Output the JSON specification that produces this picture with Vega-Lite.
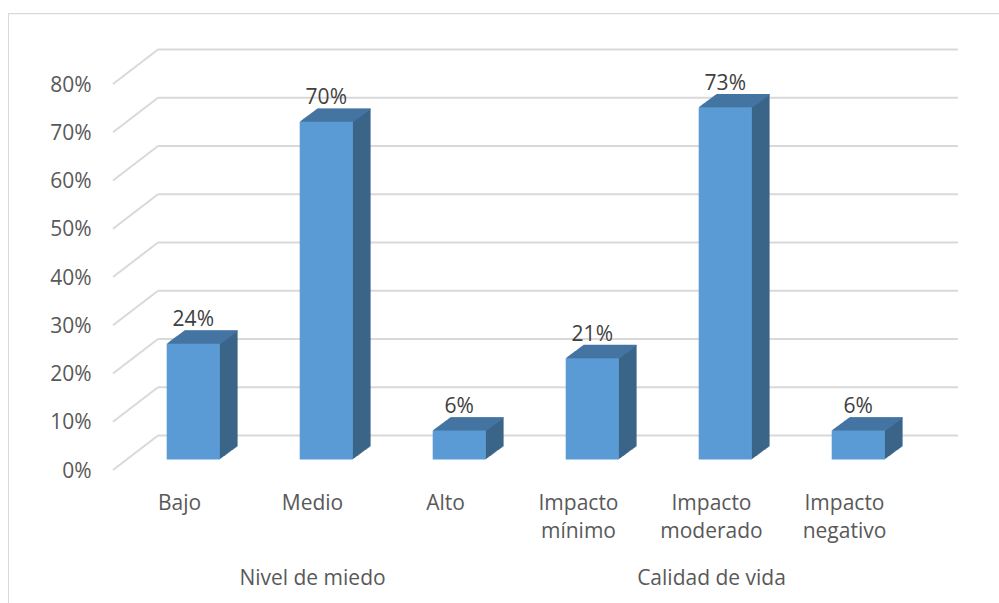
{
"$schema":"https://vega.github.io/schema/vega-lite/v6.json",
"width":798,"height":386,
"autosize":{"type":"none"},
"padding":{"left":113,"top":84,"right":88,"bottom":133},
"background":"white",
"config":{"view":{"stroke":null},"font":"Open Sans","text":{"font":"Open Sans"}},
"resolve":{"scale":{"x":"independent"}},
"layer":[
{"data":{"values":[{"nivel":0},{"nivel":0.1},{"nivel":0.2},{"nivel":0.3},{"nivel":0.4},{"nivel":0.5},{"nivel":0.6},{"nivel":0.7},{"nivel":0.8}]},
"layer":[
{"mark":{"type":"rule","color":"#d9d9d9","strokeWidth":1},
"encoding":{"x":{"datum":-104.5,"type":"quantitative","scale":{"domain":[0,798],"nice":false,"zero":false},"axis":null},"x2":{"datum":886},
"y":{"datum":0.946,"type":"quantitative","scale":{"domain":[0,0.8],"nice":false},"axis":{"values":[0,0.1,0.2,0.3,0.4,0.5,0.6,0.7,0.8],"format":".0%","title":null,"domain":false,"ticks":false,"grid":false,"labelPadding":22,"labelOffset":1,"labelFontSize":21,"labelColor":"#595959","labelFont":"Open Sans"}},"y2":{"datum":0.946}}},
{"mark":{"type":"rule","color":"#d9d9d9","strokeWidth":1},
"encoding":{"x":{"datum":-104.5,"type":"quantitative"},"y":{"datum":0.946,"type":"quantitative"},"y2":{"datum":-0.28}}},
{"mark":{"type":"rule","color":"#d9d9d9","strokeWidth":2,"yOffset":0,"y2Offset":-34.5},
"encoding":{"x":{"datum":0,"type":"quantitative"},"x2":{"datum":45},"y":{"field":"nivel","type":"quantitative"},"y2":{"field":"nivel"}}},
{"mark":{"type":"rule","color":"#d9d9d9","strokeWidth":2,"yOffset":-34.5,"y2Offset":-34.5},
"encoding":{"x":{"datum":45,"type":"quantitative"},"x2":{"datum":845},"y":{"field":"nivel","type":"quantitative"},"y2":{"field":"nivel"}}}
]},
{"data":{"values":[
{"categoria":"Bajo","valor":0.24,"grupo":""},{"categoria":"Medio","valor":0.70,"grupo":"Nivel de miedo"},{"categoria":"Alto","valor":0.06,"grupo":""},
{"categoria":"Impacto mínimo","valor":0.21,"grupo":""},{"categoria":"Impacto moderado","valor":0.73,"grupo":"Calidad de vida"},{"categoria":"Impacto negativo","valor":0.06,"grupo":""}]},
"encoding":{
"x":{"field":"categoria","type":"nominal","sort":null,"scale":{"paddingInner":0.6,"paddingOuter":0.3},"axis":{"orient":"bottom","title":null,"domain":false,"ticks":false,"labelAngle":0,"labelFontSize":21,"labelColor":"#595959","labelFont":"Open Sans","labelPadding":22,"labelLineHeight":28,"labelExpr":"split(datum.label,' ')"}},
"y":{"field":"valor","type":"quantitative"}},
"layer":[
{"mark":{"type":"bar","color":"#3a6488","xOffset":14.8,"yOffset":-11.2,"y2Offset":-11.2},"encoding":{"y2":{"datum":0}}},
{"mark":{"type":"bar","color":"#3a6488","xOffset":15.8,"yOffset":-11.9,"y2Offset":-11.9},"encoding":{"y2":{"datum":0}}},
{"mark":{"type":"bar","color":"#3a6488","xOffset":16.8,"yOffset":-12.7,"y2Offset":-12.7},"encoding":{"y2":{"datum":0}}},
{"mark":{"type":"bar","color":"#3a6488","xOffset":17.7,"yOffset":-13.4,"y2Offset":-13.4},"encoding":{"y2":{"datum":0}}},
{"mark":{"type":"bar","color":"#3a6488","xOffset":18.7,"yOffset":-14.1,"y2Offset":-14.1},"encoding":{"y2":{"datum":0}}},
{"mark":{"type":"bar","color":"#3a6488","xOffset":19.7,"yOffset":-14.8,"y2Offset":-14.8},"encoding":{"y2":{"datum":0}}},
{"mark":{"type":"bar","color":"#3a6488","xOffset":20.7,"yOffset":-15.6,"y2Offset":-15.6},"encoding":{"y2":{"datum":0}}},
{"mark":{"type":"bar","color":"#3a6488","xOffset":21.7,"yOffset":-16.3,"y2Offset":-16.3},"encoding":{"y2":{"datum":0}}},
{"mark":{"type":"bar","color":"#3a6488","xOffset":22.6,"yOffset":-17.0,"y2Offset":-17.0},"encoding":{"y2":{"datum":0}}},
{"mark":{"type":"bar","color":"#3a6488","xOffset":23.6,"yOffset":-17.7,"y2Offset":-17.7},"encoding":{"y2":{"datum":0}}},
{"mark":{"type":"bar","color":"#3a6488","xOffset":24.6,"yOffset":-18.4,"y2Offset":-18.4},"encoding":{"y2":{"datum":0}}},
{"mark":{"type":"bar","color":"#3a6488","xOffset":25.6,"yOffset":-19.2,"y2Offset":-19.2},"encoding":{"y2":{"datum":0}}},
{"mark":{"type":"bar","color":"#3a6488","xOffset":26.6,"yOffset":-19.9,"y2Offset":-19.9},"encoding":{"y2":{"datum":0}}},
{"mark":{"type":"bar","color":"#3a6488","xOffset":27.6,"yOffset":-20.6,"y2Offset":-20.6},"encoding":{"y2":{"datum":0}}},
{"mark":{"type":"bar","color":"#3a6488","xOffset":28.5,"yOffset":-21.3,"y2Offset":-21.3},"encoding":{"y2":{"datum":0}}},
{"mark":{"type":"bar","color":"#3a6488","xOffset":29.5,"yOffset":-22.1,"y2Offset":-22.1},"encoding":{"y2":{"datum":0}}},
{"mark":{"type":"bar","color":"#3a6488","xOffset":30.5,"yOffset":-22.8,"y2Offset":-22.8},"encoding":{"y2":{"datum":0}}},
{"mark":{"type":"bar","color":"#3a6488","xOffset":31.5,"yOffset":-23.5,"y2Offset":-23.5},"encoding":{"y2":{"datum":0}}},
{"mark":{"type":"tick","opacity":1,"size":53.2,"thickness":1.3,"orient":"horizontal","color":"#4475a2","xOffset":14.8,"yOffset":-10.9}},
{"mark":{"type":"tick","opacity":1,"size":53.2,"thickness":1.3,"orient":"horizontal","color":"#4475a2","xOffset":15.8,"yOffset":-11.6}},
{"mark":{"type":"tick","opacity":1,"size":53.2,"thickness":1.3,"orient":"horizontal","color":"#4475a2","xOffset":16.8,"yOffset":-12.4}},
{"mark":{"type":"tick","opacity":1,"size":53.2,"thickness":1.3,"orient":"horizontal","color":"#4475a2","xOffset":17.7,"yOffset":-13.1}},
{"mark":{"type":"tick","opacity":1,"size":53.2,"thickness":1.3,"orient":"horizontal","color":"#4475a2","xOffset":18.7,"yOffset":-13.8}},
{"mark":{"type":"tick","opacity":1,"size":53.2,"thickness":1.3,"orient":"horizontal","color":"#4475a2","xOffset":19.7,"yOffset":-14.5}},
{"mark":{"type":"tick","opacity":1,"size":53.2,"thickness":1.3,"orient":"horizontal","color":"#4475a2","xOffset":20.7,"yOffset":-15.3}},
{"mark":{"type":"tick","opacity":1,"size":53.2,"thickness":1.3,"orient":"horizontal","color":"#4475a2","xOffset":21.7,"yOffset":-16}},
{"mark":{"type":"tick","opacity":1,"size":53.2,"thickness":1.3,"orient":"horizontal","color":"#4475a2","xOffset":22.6,"yOffset":-16.7}},
{"mark":{"type":"tick","opacity":1,"size":53.2,"thickness":1.3,"orient":"horizontal","color":"#4475a2","xOffset":23.6,"yOffset":-17.4}},
{"mark":{"type":"tick","opacity":1,"size":53.2,"thickness":1.3,"orient":"horizontal","color":"#4475a2","xOffset":24.6,"yOffset":-18.1}},
{"mark":{"type":"tick","opacity":1,"size":53.2,"thickness":1.3,"orient":"horizontal","color":"#4475a2","xOffset":25.6,"yOffset":-18.9}},
{"mark":{"type":"tick","opacity":1,"size":53.2,"thickness":1.3,"orient":"horizontal","color":"#4475a2","xOffset":26.6,"yOffset":-19.6}},
{"mark":{"type":"tick","opacity":1,"size":53.2,"thickness":1.3,"orient":"horizontal","color":"#4475a2","xOffset":27.6,"yOffset":-20.3}},
{"mark":{"type":"tick","opacity":1,"size":53.2,"thickness":1.3,"orient":"horizontal","color":"#4475a2","xOffset":28.5,"yOffset":-21}},
{"mark":{"type":"tick","opacity":1,"size":53.2,"thickness":1.3,"orient":"horizontal","color":"#4475a2","xOffset":29.5,"yOffset":-21.8}},
{"mark":{"type":"tick","opacity":1,"size":53.2,"thickness":1.3,"orient":"horizontal","color":"#4475a2","xOffset":30.5,"yOffset":-22.5}},
{"mark":{"type":"tick","opacity":1,"size":53.2,"thickness":1.3,"orient":"horizontal","color":"#4475a2","xOffset":31.5,"yOffset":-23.2}},
{"mark":{"type":"bar","color":"#5b9bd5","xOffset":13.8,"yOffset":-10.5,"y2Offset":-10.5},"encoding":{"y2":{"datum":0}}},
{"mark":{"type":"text","font":"Open Sans","fontSize":21,"color":"#404040","baseline":"middle","xOffset":13.8,"yOffset":-34},
"encoding":{"text":{"field":"valor","type":"quantitative","format":".0%"}}},
{"mark":{"type":"text","font":"Open Sans","fontSize":21,"color":"#595959","baseline":"middle","yOffset":108.5},
"encoding":{"y":{"datum":0,"type":"quantitative"},"text":{"field":"grupo","type":"nominal"}}}
]}
]}
